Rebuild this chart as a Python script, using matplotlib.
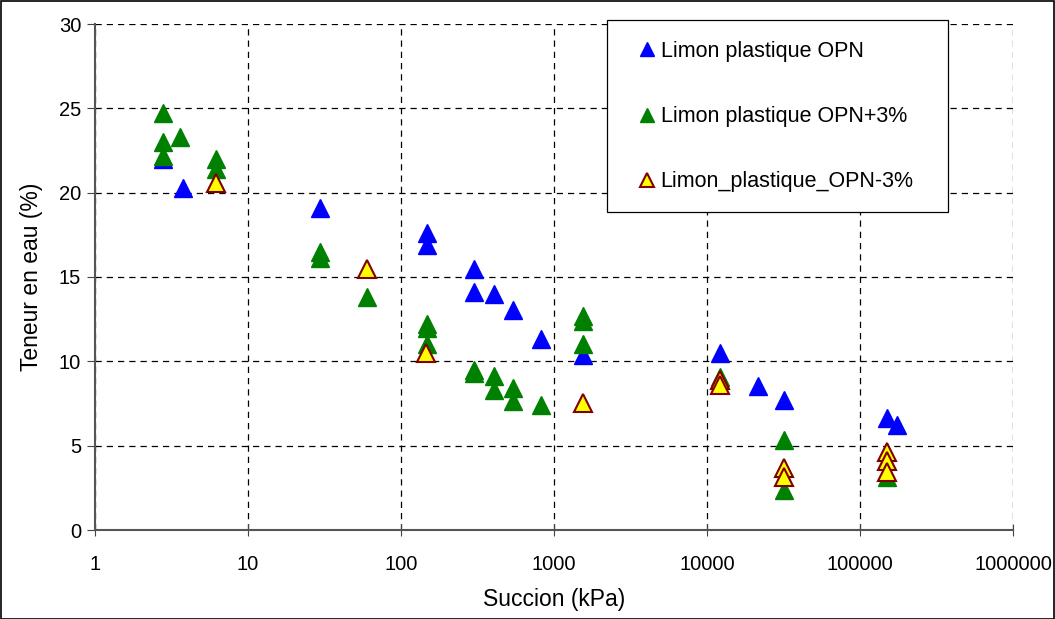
import matplotlib
matplotlib.use("Agg")
import matplotlib.pyplot as plt
from matplotlib.patches import Rectangle

plt.rcParams['font.family'] = ['Liberation Sans', 'DejaVu Sans']

# Data
opn_x = [2.78, 3.76, 29.5, 149, 149, 300, 300, 407, 537, 822, 1550, 12170, 21600, 31700, 150000, 174000]
opn_y = [22.0, 20.3, 19.1, 17.6, 16.9, 15.45, 14.1, 14.0, 13.07, 11.3, 10.35, 10.52, 8.55, 7.72, 6.65, 6.24]

plus_x = [2.78, 2.78, 2.78, 3.6, 6.2, 6.2, 29.5, 29.5, 60.2, 149, 149, 149, 300, 300, 407, 407,
          537, 537, 822, 1550, 1550, 1550, 12170, 31700, 31700, 150000]
plus_y = [24.7, 23.0, 22.2, 23.3, 22.0, 21.4, 16.5, 16.1, 13.8, 12.2, 11.95, 11.0, 9.5, 9.3, 9.14, 8.3,
          8.43, 7.62, 7.44, 12.7, 12.4, 11.0, 9.1, 5.36, 2.38, 3.17]

minus_x = [6.2, 60.2, 146, 1550, 12170, 12170, 31700, 31700, 150000, 150000, 150000]
minus_y = [20.6, 15.5, 10.5, 7.54, 8.9, 8.6, 3.69, 3.17, 4.64, 4.09, 3.46]

labels = ["Limon plastique OPN", "Limon plastique OPN+3%", "Limon_plastique_OPN-3%"]
x_ticks = [1, 10, 100, 1000, 10000, 100000, 1000000]
y_ticks = [0, 5, 10, 15, 20, 25, 30]

W, H = 1055, 619
fig = plt.figure(figsize=(W / 100, H / 100), dpi=100)
ax = fig.add_axes([95 / W, 1 - 530 / H, (1013 - 95) / W, (530 - 24) / H])

ms = 12.5
ax.plot(opn_x, opn_y, linestyle='none', marker='^', markersize=ms, color='#0000FF',
        markeredgecolor='#0000FF', label=labels[0], zorder=3)
ax.plot(plus_x, plus_y, linestyle='none', marker='^', markersize=ms, color='#008000',
        markeredgecolor='#008000', label=labels[1], zorder=4)
ax.plot(minus_x, minus_y, linestyle='none', marker='^', markersize=ms, color='#FFFF00',
        markeredgecolor='#800000', markeredgewidth=1.5, label=labels[2], zorder=5)

ax.set_xscale('log')
ax.set_xlim(1, 1000000)
ax.set_ylim(0, 30)
ax.set_xticks(x_ticks)
ax.set_xticklabels([str(v) for v in x_ticks])
ax.minorticks_off()
ax.set_yticks(y_ticks)
ax.tick_params(axis='both', labelsize=14.5, colors='black')
ax.tick_params(axis='x', direction='inout', length=8, color='#444444', pad=14)
ax.tick_params(axis='y', direction='out', length=6, color='#444444', pad=4)

ax.grid(True, which='major', linestyle=(0, (5, 4)), color='black', linewidth=0.9)
ax.set_axisbelow(True)
for s in ['top', 'right']:
    ax.spines[s].set_visible(False)
for s in ['left', 'bottom']:
    ax.spines[s].set_color('#555555')
    ax.spines[s].set_linewidth(1.5)
    ax.spines[s].set_zorder(6)

ax.set_xlabel('Succion (kPa)', fontsize=16.5, labelpad=10)
ax.set_ylabel('Teneur en eau (%)', fontsize=16.5, labelpad=11)

# Legend box
fig.patches.append(Rectangle((607 / W, 1 - 212 / H), (948 - 607) / W, (212 - 20) / H,
                             transform=fig.transFigure, facecolor='white', edgecolor='black',
                             linewidth=0.9, zorder=9))
leg = fig.legend(loc='upper left', bbox_to_anchor=(638 / W, 1 - 41 / H), fontsize=15.5,
                 frameon=False, markerscale=0.8,
                 labelspacing=2.05, borderpad=0, handlelength=0.8, handletextpad=0.25,
                 borderaxespad=0)
leg.set_zorder(10)

fig.patches.append(Rectangle((0.5 / W, 0.5 / H), 1 - 1.5 / W, 1 - 1.5 / H, transform=fig.transFigure,
                             fill=False, edgecolor='black', linewidth=1.2))

fig.savefig('out.png', dpi=100)
